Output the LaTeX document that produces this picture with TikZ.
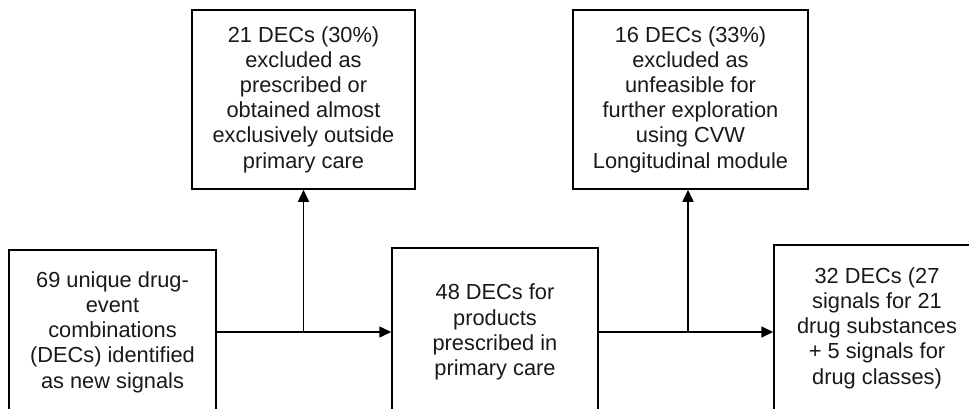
\documentclass[tikz,border=0pt]{standalone}
\usepackage{fontspec}
\setmainfont{Liberation Sans}
\usetikzlibrary{arrows.meta}
\begin{document}
\begin{tikzpicture}[x=1pt,y=-1pt,
  box/.style={draw=black, line width=1.5pt, align=center, text=black!90,
    font=\fontsize{21.8}{25.2}\selectfont, inner sep=0pt, anchor=center},
  conn/.style={line width=1.5pt, draw=black},
  arr/.style={conn, -{Triangle[length=12pt,width=11pt]}}]
\useasboundingbox (0,0) rectangle (969,408);
\clip (0,0) rectangle (969,408);
\node[box, minimum width=207pt, minimum height=164pt] (start) at (112.5,332)
  {69 unique drug-\\event\\combinations\\(DECs) identified\\as new signals};
\node[box, minimum width=206pt, minimum height=168pt] (mid) at (495,332)
  {48 DECs for\\products\\prescribed in\\primary care};
\node[box, minimum width=206pt, minimum height=166pt] (final) at (877,328)
  {32 DECs (27\\signals for 21\\drug substances\\+ 5 signals for\\drug classes)};
\node[box, minimum width=223pt, minimum height=179pt] (ex1) at (303.5,99.5)
  {21 DECs (30\%)\\excluded as\\prescribed or\\obtained almost\\exclusively outside\\primary care};
\node[box, minimum width=235pt, minimum height=179pt] (ex2) at (690.5,99.5)
  {16 DECs (33\%)\\excluded as\\unfeasible for\\further exploration\\using CVW\\Longitudinal module};
\coordinate (j1) at (303.5,332);
\coordinate (j2) at (688,332);
\draw[arr] (start.east) -- (mid.west);
\draw[arr] (j1) -- (j1 |- ex1.south);
\draw[arr] (mid.east) -- (mid.east -| final.west);
\draw[arr] (j2) -- (j2 |- ex2.south);
\end{tikzpicture}
\end{document}
